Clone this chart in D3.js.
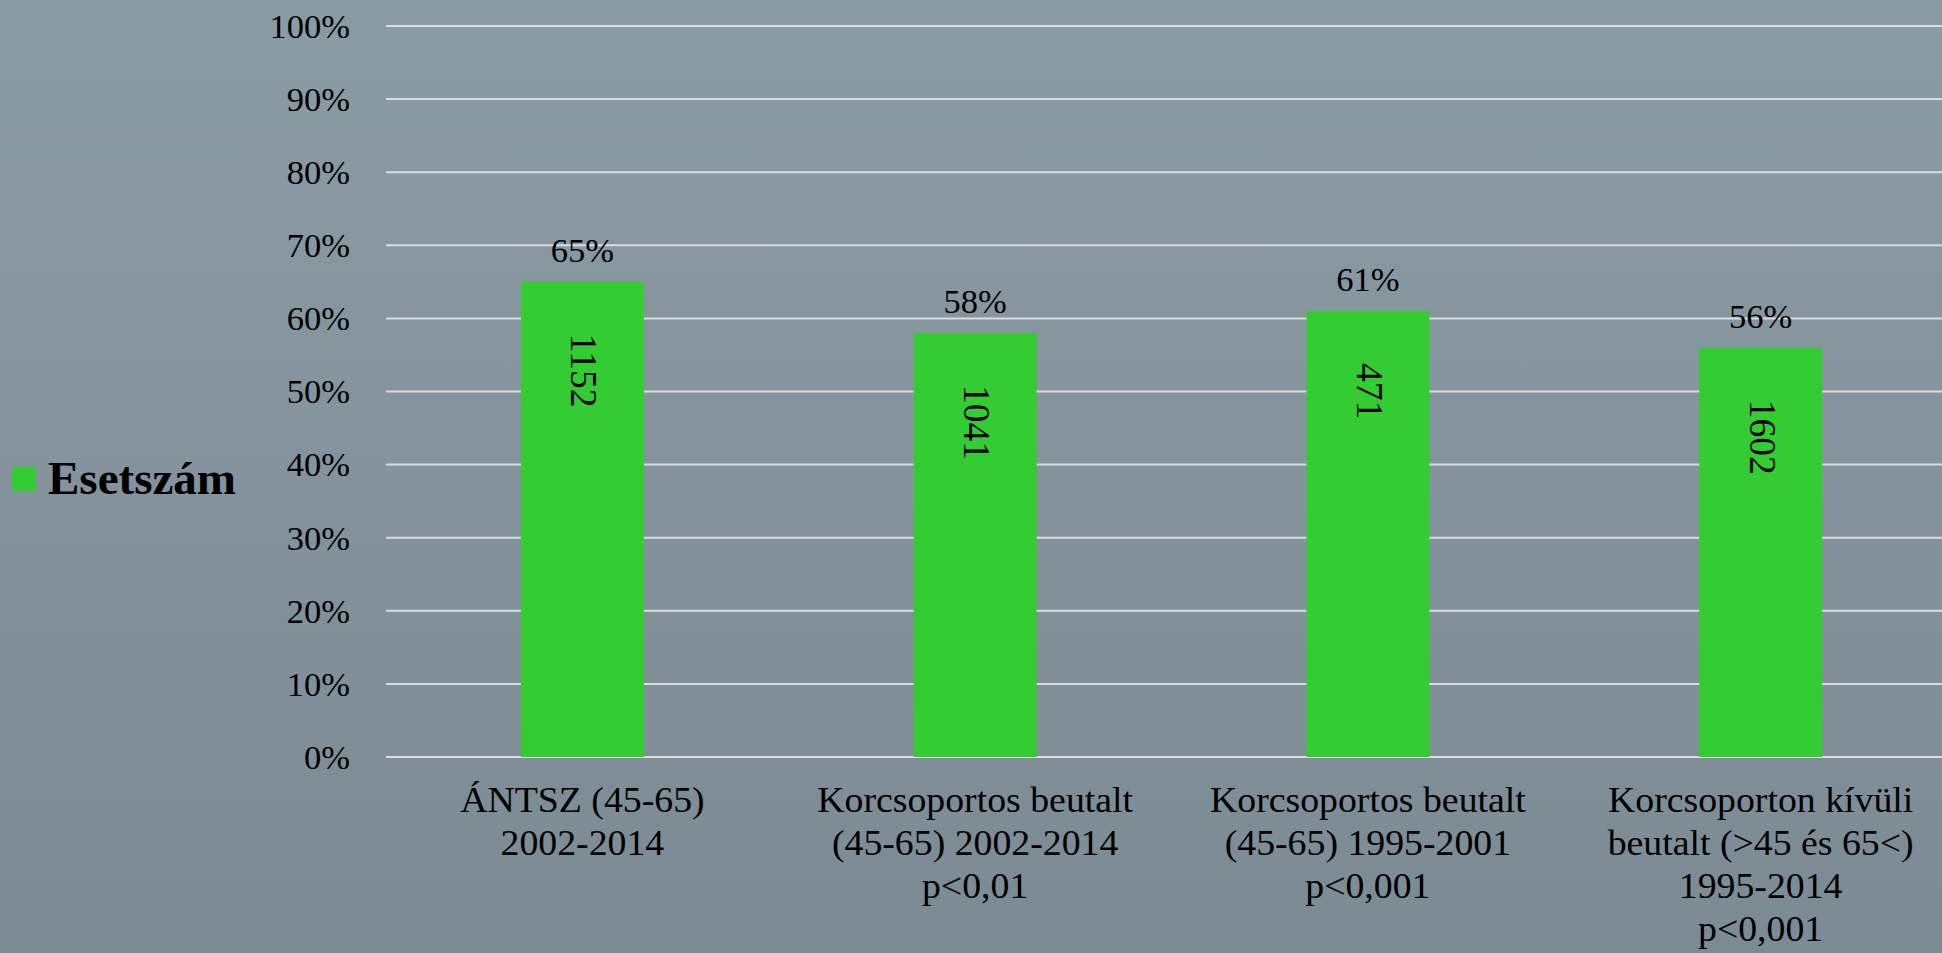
<!DOCTYPE html>
<html>
<head>
<meta charset="utf-8">
<script src="https://cdn.jsdelivr.net/npm/d3@7"></script>
<style>
  html, body { margin: 0; padding: 0; overflow: hidden; }
  svg { display: block; }
</style>
</head>
<body>
<script>
const categories = [
  ["ÁNTSZ (45-65)", "2002-2014"],
  ["Korcsoportos beutalt", "(45-65) 2002-2014", "p<0,01"],
  ["Korcsoportos beutalt", "(45-65) 1995-2001", "p<0,001"],
  ["Korcsoporton kívüli", "beutalt (>45 és 65<)", "1995-2014", "p<0,001"]
];
const percentValues = [0.65, 0.58, 0.61, 0.56];
const caseCounts = [1152, 1041, 471, 1602];
const yTicks = [0, 0.1, 0.2, 0.3, 0.4, 0.5, 0.6, 0.7, 0.8, 0.9, 1.0];
const seriesName = "Esetszám";

const W = 1942, H = 953;
const font = "'Liberation Serif', 'Times New Roman', serif";
const barColor = "#33cc33";

const svg = d3.select("body").append("svg").attr("width", W).attr("height", H);

const defs = svg.append("defs");
const grad = defs.append("linearGradient").attr("id", "bg").attr("x1", 0).attr("y1", 0).attr("x2", 0).attr("y2", 1);
grad.append("stop").attr("offset", "0%").attr("stop-color", "#8b9ba4");
grad.append("stop").attr("offset", "100%").attr("stop-color", "#7c8a94");
svg.append("rect").attr("width", W).attr("height", H).attr("fill", "url(#bg)");

const x0 = 386, x1 = 1957;
const yTop = 26, yBottom = 757;
const idx = d3.range(categories.length);
const p = 0.687;
const x = d3.scaleBand().domain(idx).range([x0, x1]).paddingInner(p).paddingOuter(p / 2);
const y = d3.scaleLinear().domain([0, 1]).range([yBottom, yTop]);

// gridlines
svg.append("g").selectAll("line").data(yTicks).join("line")
  .attr("x1", x0).attr("x2", x1)
  .attr("y1", d => y(d)).attr("y2", d => y(d))
  .attr("stroke", "#dcdcdc").attr("stroke-width", 2);

// y axis labels
const yAxis = d3.axisLeft(y).tickValues(yTicks).tickFormat(d3.format(".0%")).tickSize(0).tickPadding(0);
const yg = svg.append("g").attr("transform", "translate(350,0)").call(yAxis);
yg.select(".domain").remove();
yg.selectAll("text").attr("font-family", font).attr("font-size", 34.5).attr("fill", "#000").attr("dy", "0.33em");

// bars
svg.append("g").selectAll("rect").data(idx).join("rect")
  .attr("x", i => x(i)).attr("width", x.bandwidth())
  .attr("y", i => y(percentValues[i])).attr("height", i => y(0) - y(percentValues[i]))
  .attr("fill", barColor);

// value labels above
svg.append("g").selectAll("text").data(idx).join("text")
  .attr("x", i => x(i) + x.bandwidth() / 2)
  .attr("y", i => y(percentValues[i]) - 20)
  .attr("text-anchor", "middle")
  .attr("font-family", font).attr("font-size", 34.5).attr("fill", "#000")
  .text(i => d3.format(".0%")(percentValues[i]));

// case counts rotated inside bars
svg.append("g").selectAll("text").data(idx).join("text")
  .attr("transform", i => `translate(${x(i) + x.bandwidth() / 2 + 2},${y(percentValues[i]) + 52}) rotate(90)`)
  .attr("text-anchor", "start")
  .attr("dy", "0.35em")
  .attr("font-family", font).attr("font-size", 37.5).attr("fill", "#000")
  .text(i => caseCounts[i]);

// x labels
const xl = svg.append("g").selectAll("text").data(idx).join("text")
  .attr("transform", i => `translate(${x(i) + x.bandwidth() / 2},812) scale(1.08,1)`)
  .attr("text-anchor", "middle")
  .attr("font-family", font).attr("font-size", 35).attr("fill", "#000");
xl.selectAll("tspan").data(i => categories[i]).join("tspan")
  .attr("x", 0)
  .attr("dy", (d, j) => j === 0 ? 0 : 43)
  .text(d => d);

// legend
svg.append("rect").attr("x", 12).attr("y", 467).attr("width", 24).attr("height", 24).attr("fill", barColor);
svg.append("text").attr("x", 48).attr("y", 494)
  .attr("font-family", font).attr("font-size", 47).attr("font-weight", "bold").attr("fill", "#000")
  .text(seriesName);
</script>
</body>
</html>
